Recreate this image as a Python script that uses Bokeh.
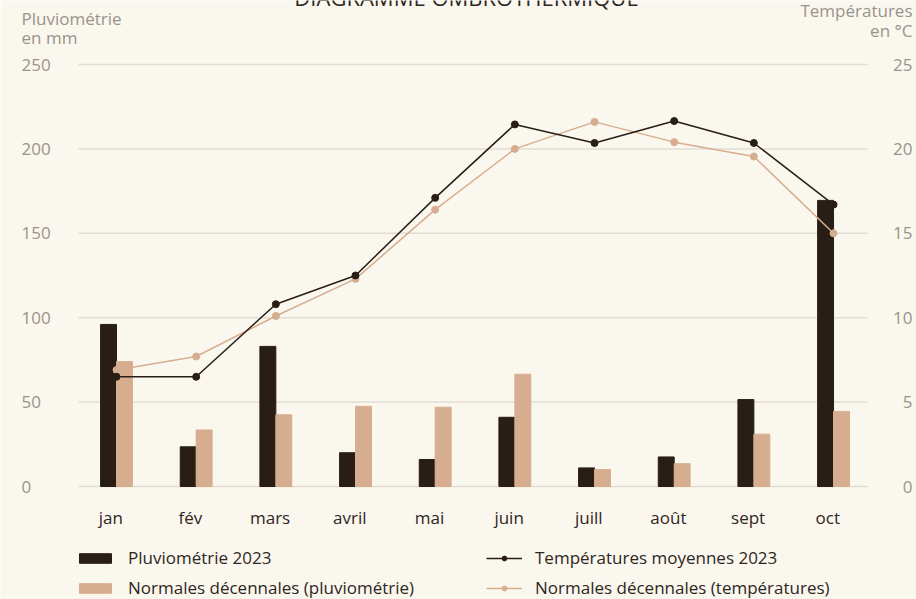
from bokeh.plotting import figure
from bokeh.models import Range1d, Legend, LegendItem, ColumnDataSource
from bokeh.core.properties import value
from bokeh.transform import dodge
from bokeh.embed import file_html
from bokeh.resources import INLINE

# ---- data ----
months = ["jan", "fév", "mars", "avril", "mai", "juin", "juill", "août", "sept", "oct"]
pluvio_2023 = [96, 23.5, 83, 20, 16, 41, 11, 17.5, 51.5, 169.5]
pluvio_normales = [74, 33.5, 42.5, 47.5, 47, 66.5, 10, 13.5, 31, 44.5]
temp_2023 = [6.5, 6.5, 10.8, 12.5, 17.1, 21.45, 20.35, 21.65, 20.35, 16.7]
temp_normales = [6.9, 7.7, 10.1, 12.3, 16.4, 20.0, 21.6, 20.4, 19.55, 15.0]
pluvio_ticks = [0, 50, 100, 150, 200, 250]
temp_ticks = [0, 5, 10, 15, 20, 25]
title_text = "DIAGRAMME OMBROTHERMIQUE"
left_title = ["Pluviométrie", "en mm"]
right_title = ["Températures", "en °C"]
legend_labels = ["Pluviométrie 2023", "Normales décennales (pluviométrie)",
                 "Températures moyennes 2023", "Normales décennales (températures)"]

# ---- style ----
BG = "#faf7ef"
DARK = "#291e16"
LIGHT = "#d6ae8f"
GRID = "#e2ddd4"
GREY = "#9a938b"
TEXT = "#2e2620"
FONT = "Open Sans"
FS = "17px"

W, H = 916, 599
# pixel geometry of the plotting area (canvas pixels)
X_FIRST, X_STEP = 116.0, 79.67          # centre of first month, month spacing
Y_ZERO, Y_TOP = 486.0, 64.0             # pixel rows of 0 and of the top tick
PLUV_MAX, TEMP_MAX = pluvio_ticks[-1], temp_ticks[-1]
ppu = (Y_ZERO - Y_TOP) / PLUV_MAX
x0 = -X_FIRST / X_STEP
x1 = (W - X_FIRST) / X_STEP
y0 = -(H - Y_ZERO) / ppu
y1 = Y_ZERO / ppu
k = TEMP_MAX / PLUV_MAX

idx = list(range(len(months)))
src = ColumnDataSource(dict(i=idx, m=months, p23=pluvio_2023, pn=pluvio_normales,
                            t23=temp_2023, tn=temp_normales))

p = figure(width=W, height=H, x_range=Range1d(x0, x1), y_range=Range1d(y0, y1),
           output_backend="svg", toolbar_location=None,
           x_axis_location=None, y_axis_location=None,
           min_border=0, background_fill_color=BG, border_fill_color=BG,
           outline_line_color=None)
p.grid.visible = False
p.extra_y_ranges = {"temp": Range1d(y0 * k, y1 * k), "sy": Range1d(H, 0)}
p.extra_x_ranges = {"sx": Range1d(0, W)}

# grid lines at the rainfall ticks
n = len(pluvio_ticks)
p.segment(x0=[78] * n, x1=[867] * n, y0=pluvio_ticks, y1=pluvio_ticks,
          x_range_name="sx", line_color=GRID, line_width=1.5)

# bars
b1 = p.vbar(x=dodge("i", -0.1), top="p23", width=0.2, source=src, color=DARK)
b2 = p.vbar(x=dodge("i", 0.1), top="pn", width=0.2, source=src, color=LIGHT)

# temperature lines
l2 = p.line("i", "tn", source=src, y_range_name="temp", color=LIGHT, line_width=1.5)
s2 = p.scatter("i", "tn", source=src, y_range_name="temp", color=LIGHT, size=7)
l1 = p.line("i", "t23", source=src, y_range_name="temp", color=DARK, line_width=1.5)
s1 = p.scatter("i", "t23", source=src, y_range_name="temp", color=DARK, size=7)

txt = dict(text_font=value(FONT), text_font_size=value(FS))

# month labels
p.text(x=dodge("i", -0.072), y=value(517), text="m", source=src, y_range_name="sy",
       text_align="center", text_baseline="middle", text_color=TEXT, **txt)

# tick labels
p.text(x=[21] * n, y=pluvio_ticks, text=[str(v) for v in pluvio_ticks],
       x_range_name="sx", text_align="left", text_baseline="middle",
       text_color=GREY, **txt)
p.text(x=[912] * len(temp_ticks), y=temp_ticks, text=[str(v) for v in temp_ticks],
       x_range_name="sx", y_range_name="temp", text_align="right",
       text_baseline="middle", text_color=GREY, **txt)

# axis titles
p.text(x=[21, 21], y=[18, 37], text=left_title, x_range_name="sx",
       y_range_name="sy", text_align="left", text_baseline="alphabetic",
       text_color=GREY, **txt)
p.text(x=[912, 912], y=[10, 30], text=right_title, x_range_name="sx",
       y_range_name="sy", text_align="right", text_baseline="alphabetic",
       text_color=GREY, **txt)

# title (cut at the top, as in the reference)
p.text(x=[466], y=[-4], text=[title_text], x_range_name="sx", y_range_name="sy",
       text_align="center", text_baseline="alphabetic", text_color=TEXT,
       text_font=value(FONT), text_font_size=value("22px"))

common = dict(orientation="vertical", padding=0, margin=0, border_line_color=None,
              background_fill_alpha=0, label_text_font=FONT,
              label_text_font_size=FS, label_text_color=TEXT,
              label_height=18, spacing=7, glyph_height=12, label_standoff=13)
leg1 = Legend(items=[LegendItem(label=legend_labels[0], renderers=[b1]),
                     LegendItem(label=legend_labels[1], renderers=[b2])],
              location=(75, 0), glyph_width=40, **common)
leg2 = Legend(items=[LegendItem(label=legend_labels[2], renderers=[l1, s1]),
                     LegendItem(label=legend_labels[3], renderers=[l2, s2])],
              location=(486, 0), glyph_width=36, **common)
p.add_layout(leg1, "center")
p.add_layout(leg2, "center")

open("out.html", "w").write(file_html(p, INLINE))
